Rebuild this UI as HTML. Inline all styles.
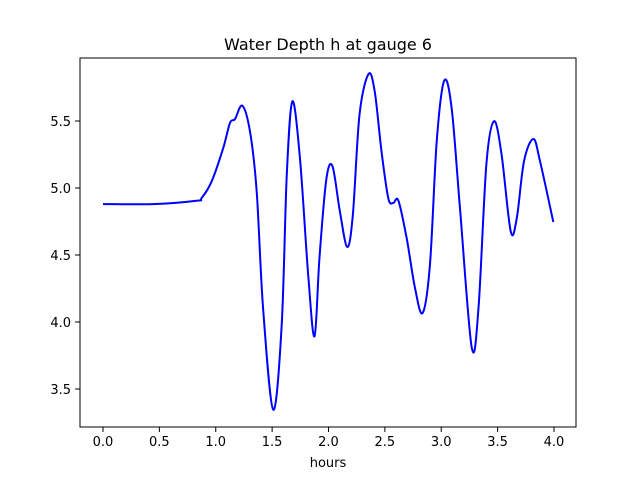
<!DOCTYPE html>
<html><head><meta charset="utf-8"><style>
body{margin:0;background:#fff}
svg text{font-family:"DejaVu Sans","Liberation Sans",sans-serif;fill:#000}
</style></head><body>
<svg id="chart" width="640" height="480" xmlns="http://www.w3.org/2000/svg">
<rect width="640" height="480" fill="#fff"/>
<text x="328" y="50" font-size="16" text-anchor="middle">Water Depth h at gauge 6</text>
<g id="axes"></g>
<path id="line" fill="none" stroke="#0000ff" stroke-width="2"/>
<rect x="80" y="58" width="496" height="369" fill="none" stroke="#000" stroke-width="1"/>
<text x="328" y="467" font-size="13" text-anchor="middle">hours</text>
</svg>
<script>
const hours = [0,0.44,0.83,0.875,0.964,1.067,1.126,1.171,1.236,1.304,1.363,1.42,1.51,1.585,1.63,1.68,1.747,1.82,1.876,1.92,1.98,2.035,2.10,2.166,2.216,2.275,2.355,2.41,2.47,2.53,2.574,2.62,2.693,2.767,2.835,2.90,2.96,3.026,3.092,3.166,3.27,3.33,3.40,3.468,3.535,3.616,3.67,3.734,3.817,3.876,3.994];
const depth = [4.88,4.88,4.905,4.925,5.05,5.30,5.485,5.515,5.614,5.42,4.975,4.10,3.345,3.98,5.10,5.647,5.22,4.35,3.893,4.48,5.06,5.163,4.83,4.56,4.80,5.547,5.85,5.72,5.274,4.925,4.888,4.905,4.627,4.254,4.067,4.43,5.35,5.80,5.597,4.85,3.811,4.10,5.174,5.498,5.25,4.677,4.776,5.20,5.366,5.20,4.746];
const xTicks = ["0.0","0.5","1.0","1.5","2.0","2.5","3.0","3.5","4.0"];
const yTicks = ["3.5","4.0","4.5","5.0","5.5"];
const X = v => 103 + v*112.75;
const Y = v => 188 - (v-5.0)*134;
const NS = "http://www.w3.org/2000/svg";
const axes = document.getElementById('axes');
function mk(tag, attrs){const e=document.createElementNS(NS,tag);for(const k in attrs)e.setAttribute(k,attrs[k]);return e;}
xTicks.forEach(t=>{
  const x=X(parseFloat(t));
  const l=mk('line',{x1:x,x2:x,y1:427,y2:432,stroke:'#000'});
  
  
  axes.appendChild(l);
  const tx=mk('text',{x:x,y:446,'font-size':'13','text-anchor':'middle'});
  
  
  tx.textContent=t;axes.appendChild(tx);
});
yTicks.forEach(t=>{
  const y=Y(parseFloat(t));
  const l=mk('line',{x1:75,x2:80,y1:y,y2:y,stroke:'#000'});
  
  
  axes.appendChild(l);
  const tx=mk('text',{x:71,y:y+5,'font-size':'13','text-anchor':'end'});
  
  
  tx.textContent=t;axes.appendChild(tx);
});
const pts=hours.map((h,i)=>[X(h),Y(depth[i])]);
let d='M'+pts[0][0]+','+pts[0][1];
for(let i=0;i<pts.length-1;i++){
  const p0=pts[Math.max(0,i-1)],p1=pts[i],p2=pts[i+1],p3=pts[Math.min(pts.length-1,i+2)];
  const c1=[p1[0]+(p2[0]-p0[0])/6,p1[1]+(p2[1]-p0[1])/6];
  const c2=[p2[0]-(p3[0]-p1[0])/6,p2[1]-(p3[1]-p1[1])/6];
  d+=' C'+c1[0]+','+c1[1]+' '+c2[0]+','+c2[1]+' '+p2[0]+','+p2[1];
}
document.getElementById('line').setAttribute('d',d);
</script>
</body></html>
